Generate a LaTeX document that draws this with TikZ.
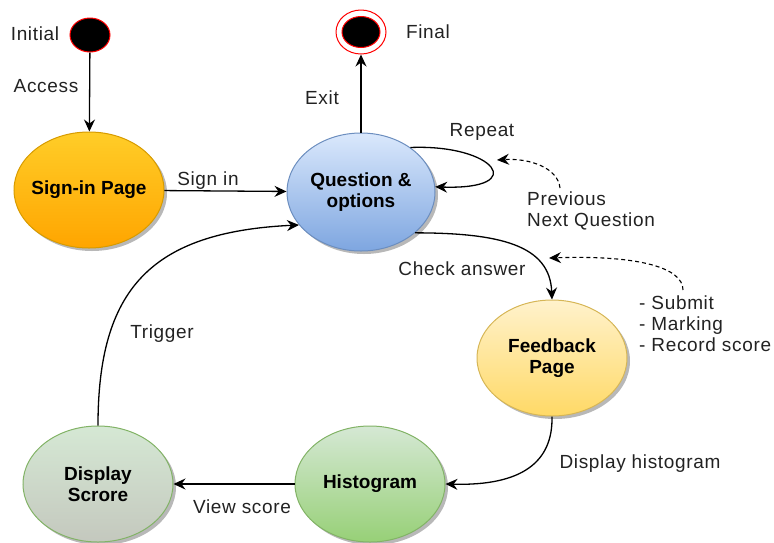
\documentclass[tikz,border=0pt]{standalone}
\usepackage{fontspec}
\setmainfont{Liberation Sans}
\newfontfamily\lblfont[LetterSpace=3.5]{Liberation Sans}
\usetikzlibrary{arrows.meta,shapes.geometric,shadows}

% state colours
\definecolor{signTop}{HTML}{FFCD28}\definecolor{signBot}{HTML}{FFA500}\definecolor{signLine}{HTML}{D79B00}
\definecolor{qoTop}{HTML}{DAE8FC}\definecolor{qoBot}{HTML}{7EA6E0}\definecolor{qoLine}{HTML}{6C8EBF}
\definecolor{fbTop}{HTML}{FFF2CC}\definecolor{fbBot}{HTML}{FFD966}\definecolor{fbLine}{HTML}{D6B656}
\definecolor{grTop}{HTML}{D5E8D4}\definecolor{grBot}{HTML}{97D077}\definecolor{grLine}{HTML}{82B366}
\definecolor{dsBot}{HTML}{C4C8BE}
\definecolor{labelInk}{HTML}{222222}

\begin{document}
\begin{tikzpicture}[x=1pt,y=-1pt,
  every node/.style={font=\fontsize{19}{21}\selectfont},
  state/.style={ellipse, minimum width=150pt, minimum height=116pt, inner xsep=-20pt, inner ysep=0pt,
    line width=1pt, align=center, font=\fontsize{19}{21}\selectfont\bfseries,
    general shadow={shadow xshift=3pt, shadow yshift=-3pt, fill=black!28}},
  lbl/.style={text=labelInk, inner sep=1pt, font=\fontsize{19}{21}\lblfont},
  flow/.style={line width=1.3pt, -{Stealth[length=12pt,width=11pt,inset=4pt]}},
  hint/.style={flow, dashed, dash pattern=on 4pt off 3pt, line width=1.1pt}]

\useasboundingbox (0,0) rectangle (774,542);

% start and end pseudo-states
\node[ellipse, fill=black, draw=red, line width=1pt, minimum width=40pt, minimum height=34pt, inner sep=0pt] (init) at (90,35) {};
\node[ellipse, fill=white, draw=red, line width=1pt, minimum width=50pt, minimum height=44pt, inner sep=0pt] (final) at (361,32) {};
\node[ellipse, fill=black, draw=red, line width=1pt, minimum width=38pt, minimum height=31pt, inner sep=0pt] (finalcore) at (361,32) {};

% states
\node[state, draw=signLine, top color=signTop, bottom color=signBot] (signin) at (89,190) {Sign-in Page};
\node[state, draw=qoLine, top color=qoTop, bottom color=qoBot, minimum width=148pt, minimum height=118pt] (qo) at (361,192) {Question \&\\options};
\node[state, draw=fbLine, top color=fbTop, bottom color=fbBot] (fb) at (552,358) {Feedback\\Page};
\node[state, draw=grLine, top color=grTop, bottom color=grBot] (hist) at (370,484) {Histogram};
\node[state, draw=grLine, top color=grTop, bottom color=dsBot] (ds) at (98,484) {Display\\Scrore};

% free ends of the hint arrows
\coordinate (pnqtail) at (560,188);
\coordinate (looptip) at (497,160);
\coordinate (smrtail) at (683,290);
\coordinate (checktip) at (549,258);

% transitions
\draw[flow] (init) -- (signin);
\draw[flow] (qo) -- (final);
\draw[flow] (signin) -- (qo);
\draw[flow] (qo.42) .. controls (495,144) and (530,190) .. (qo.4);
\draw[flow] (qo.-37) .. controls (500,233) and (550,245) .. (fb.north);
\draw[flow] (fb.south) .. controls (553,462) and (522,486) .. (hist.east);
\draw[flow] (hist) -- (ds);
\draw[flow] (ds.north) .. controls (98,290) and (150,232) .. (qo.208);

% hint arrows
\draw[hint] (pnqtail) .. controls (558,168) and (530,158) .. (looptip);
\draw[hint] (smrtail) .. controls (683,268) and (640,255) .. (checktip);

% labels
\node[lbl] (tInitial) at (35,34) {Initial};
\node[lbl] (tAccess) at (46,86) {Access};
\node[lbl] (tFinal) at (428,32) {Final};
\node[lbl] (tExit) at (322,98) {Exit};
\node[lbl] (tSignin) at (208,181) {Sign in};
\node[lbl] (tRepeat) at (482,132) {Repeat};
\node[lbl, anchor=west, align=left] (tPrev) at (526,210.5) {Previous\\Next Question};
\node[lbl] (tCheck) at (462,269) {Check answer};
\node[lbl, anchor=west, align=left] (tSubmit) at (638,324) {- Submit\\- Marking\\- Record score};
\node[lbl] (tDisp) at (640,464) {Display histogram};
\node[lbl] (tView) at (242,507) {View score};
\node[lbl] (tTrigger) at (162,334) {Trigger};
\end{tikzpicture}
\end{document}
